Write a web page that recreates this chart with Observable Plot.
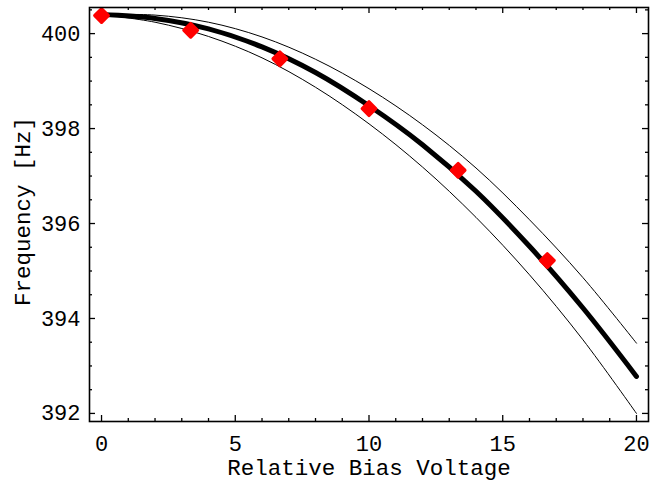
<!DOCTYPE html>
<html>
<head>
<meta charset="utf-8">
<script src="https://cdn.jsdelivr.net/npm/d3@7"></script>
<script src="https://cdn.jsdelivr.net/npm/@observablehq/plot@0.6"></script>
<style>
  html, body { margin: 0; padding: 0; background: #fff; }
</style>
</head>
<body>
<div id="chart"></div>
<script>
// Curve samples
const curveX = [0, 2, 4, 6, 8, 10, 12, 14, 16, 18, 20];
const fitY   = [400.40, 400.32, 400.10, 399.72, 399.18, 398.48, 397.66, 396.68, 395.52, 394.22, 392.78];
const upperY = [400.40, 400.39, 400.24, 399.93, 399.46, 398.84, 398.08, 397.17, 396.08, 394.86, 393.48];
const lowerY = [400.40, 400.24, 399.94, 399.49, 398.87, 398.10, 397.19, 396.13, 394.92, 393.55, 392.00];

// Measured points
const pointX = [0, 3.333, 6.667, 10, 13.333, 16.667];
const pointY = [400.38, 400.07, 399.47, 398.42, 397.12, 395.22];

// Ticks
const xMajor = [0, 5, 10, 15, 20];
const xMinor = [1, 2, 3, 4, 6, 7, 8, 9, 11, 12, 13, 14, 16, 17, 18, 19];
const yMajor = [392, 394, 396, 398, 400];
const yMinor = [392.5, 393, 393.5, 394.5, 395, 395.5, 396.5, 397, 397.5, 398.5, 399, 399.5, 400.5];

const xLabel = "Relative Bias Voltage";
const yLabel = "Frequency [Hz]";

const fit = curveX.map((x, i) => ({x, y: fitY[i]}));
const upper = curveX.map((x, i) => ({x, y: upperY[i]}));
const lower = curveX.map((x, i) => ({x, y: lowerY[i]}));
const points = pointX.map((x, i) => ({x, y: pointY[i]}));

const W = 660, H = 484, ML = 89, MR = 12, MT = 7, MB = 63;
const FW = W - ML - MR, FH = H - MT - MB;
const font = "'Liberation Mono', 'DejaVu Sans Mono', monospace";

function xTicks(values, len) {
  return [
    Plot.tickX(values, {x: d => d, insetTop: FH - len, stroke: "#000", strokeWidth: 1.3}),
    Plot.tickX(values, {x: d => d, insetBottom: FH - len, stroke: "#000", strokeWidth: 1.3})
  ];
}
function yTicks(values, len) {
  return [
    Plot.tickY(values, {y: d => d, insetRight: FW - len, stroke: "#000", strokeWidth: 1.3}),
    Plot.tickY(values, {y: d => d, insetLeft: FW - len, stroke: "#000", strokeWidth: 1.3})
  ];
}

const chart = Plot.plot({
  width: W,
  height: H,
  marginLeft: ML,
  marginRight: MR,
  marginTop: MT,
  marginBottom: MB,
  style: {fontFamily: font, fontSize: "22px", background: "#fff", color: "#000"},
  x: {domain: [-0.45, 20.45]},
  y: {domain: [391.83, 400.55]},
  marks: [
    // tick labels
    Plot.axisX({anchor: "bottom", ticks: xMajor, tickSize: 0, tickPadding: 14, tickFormat: d3.format("d"), label: null, fontSize: 22}),
    Plot.axisY({anchor: "left", ticks: yMajor, tickSize: 0, tickPadding: 9, tickFormat: d3.format("d"), label: null, fontSize: 22}),
    // inward ticks on all four sides
    ...xTicks(xMinor, 3),
    ...xTicks(xMajor, 6),
    ...yTicks(yMinor, 3),
    ...yTicks(yMajor, 6),
    // curves
    Plot.line(upper, {x: "x", y: "y", stroke: "#000", strokeWidth: 1, curve: "catmull-rom"}),
    Plot.line(lower, {x: "x", y: "y", stroke: "#000", strokeWidth: 1, curve: "catmull-rom"}),
    Plot.line(fit, {x: "x", y: "y", stroke: "#000", strokeWidth: 5, curve: "catmull-rom", strokeLinecap: "round"}),
    // points
    Plot.dot(points, {x: "x", y: "y", symbol: "diamond2", r: 6, fill: "#ff0000", stroke: "#ff0000", strokeWidth: 3.5, strokeLinejoin: "round"}),
    // frame
    Plot.frame({stroke: "#000", strokeWidth: 1.6}),
    // axis titles
    Plot.text([xLabel], {text: d => d, frameAnchor: "bottom", textAnchor: "middle", lineAnchor: "middle", dy: 46, fontSize: 22.5, fontFamily: font}),
    Plot.text([yLabel], {text: d => d, frameAnchor: "left", textAnchor: "middle", lineAnchor: "middle", dx: -67, dy: -3, rotate: -90, fontSize: 22.5, fontFamily: font})
  ]
});

document.getElementById("chart").appendChild(chart);
</script>
</body>
</html>
